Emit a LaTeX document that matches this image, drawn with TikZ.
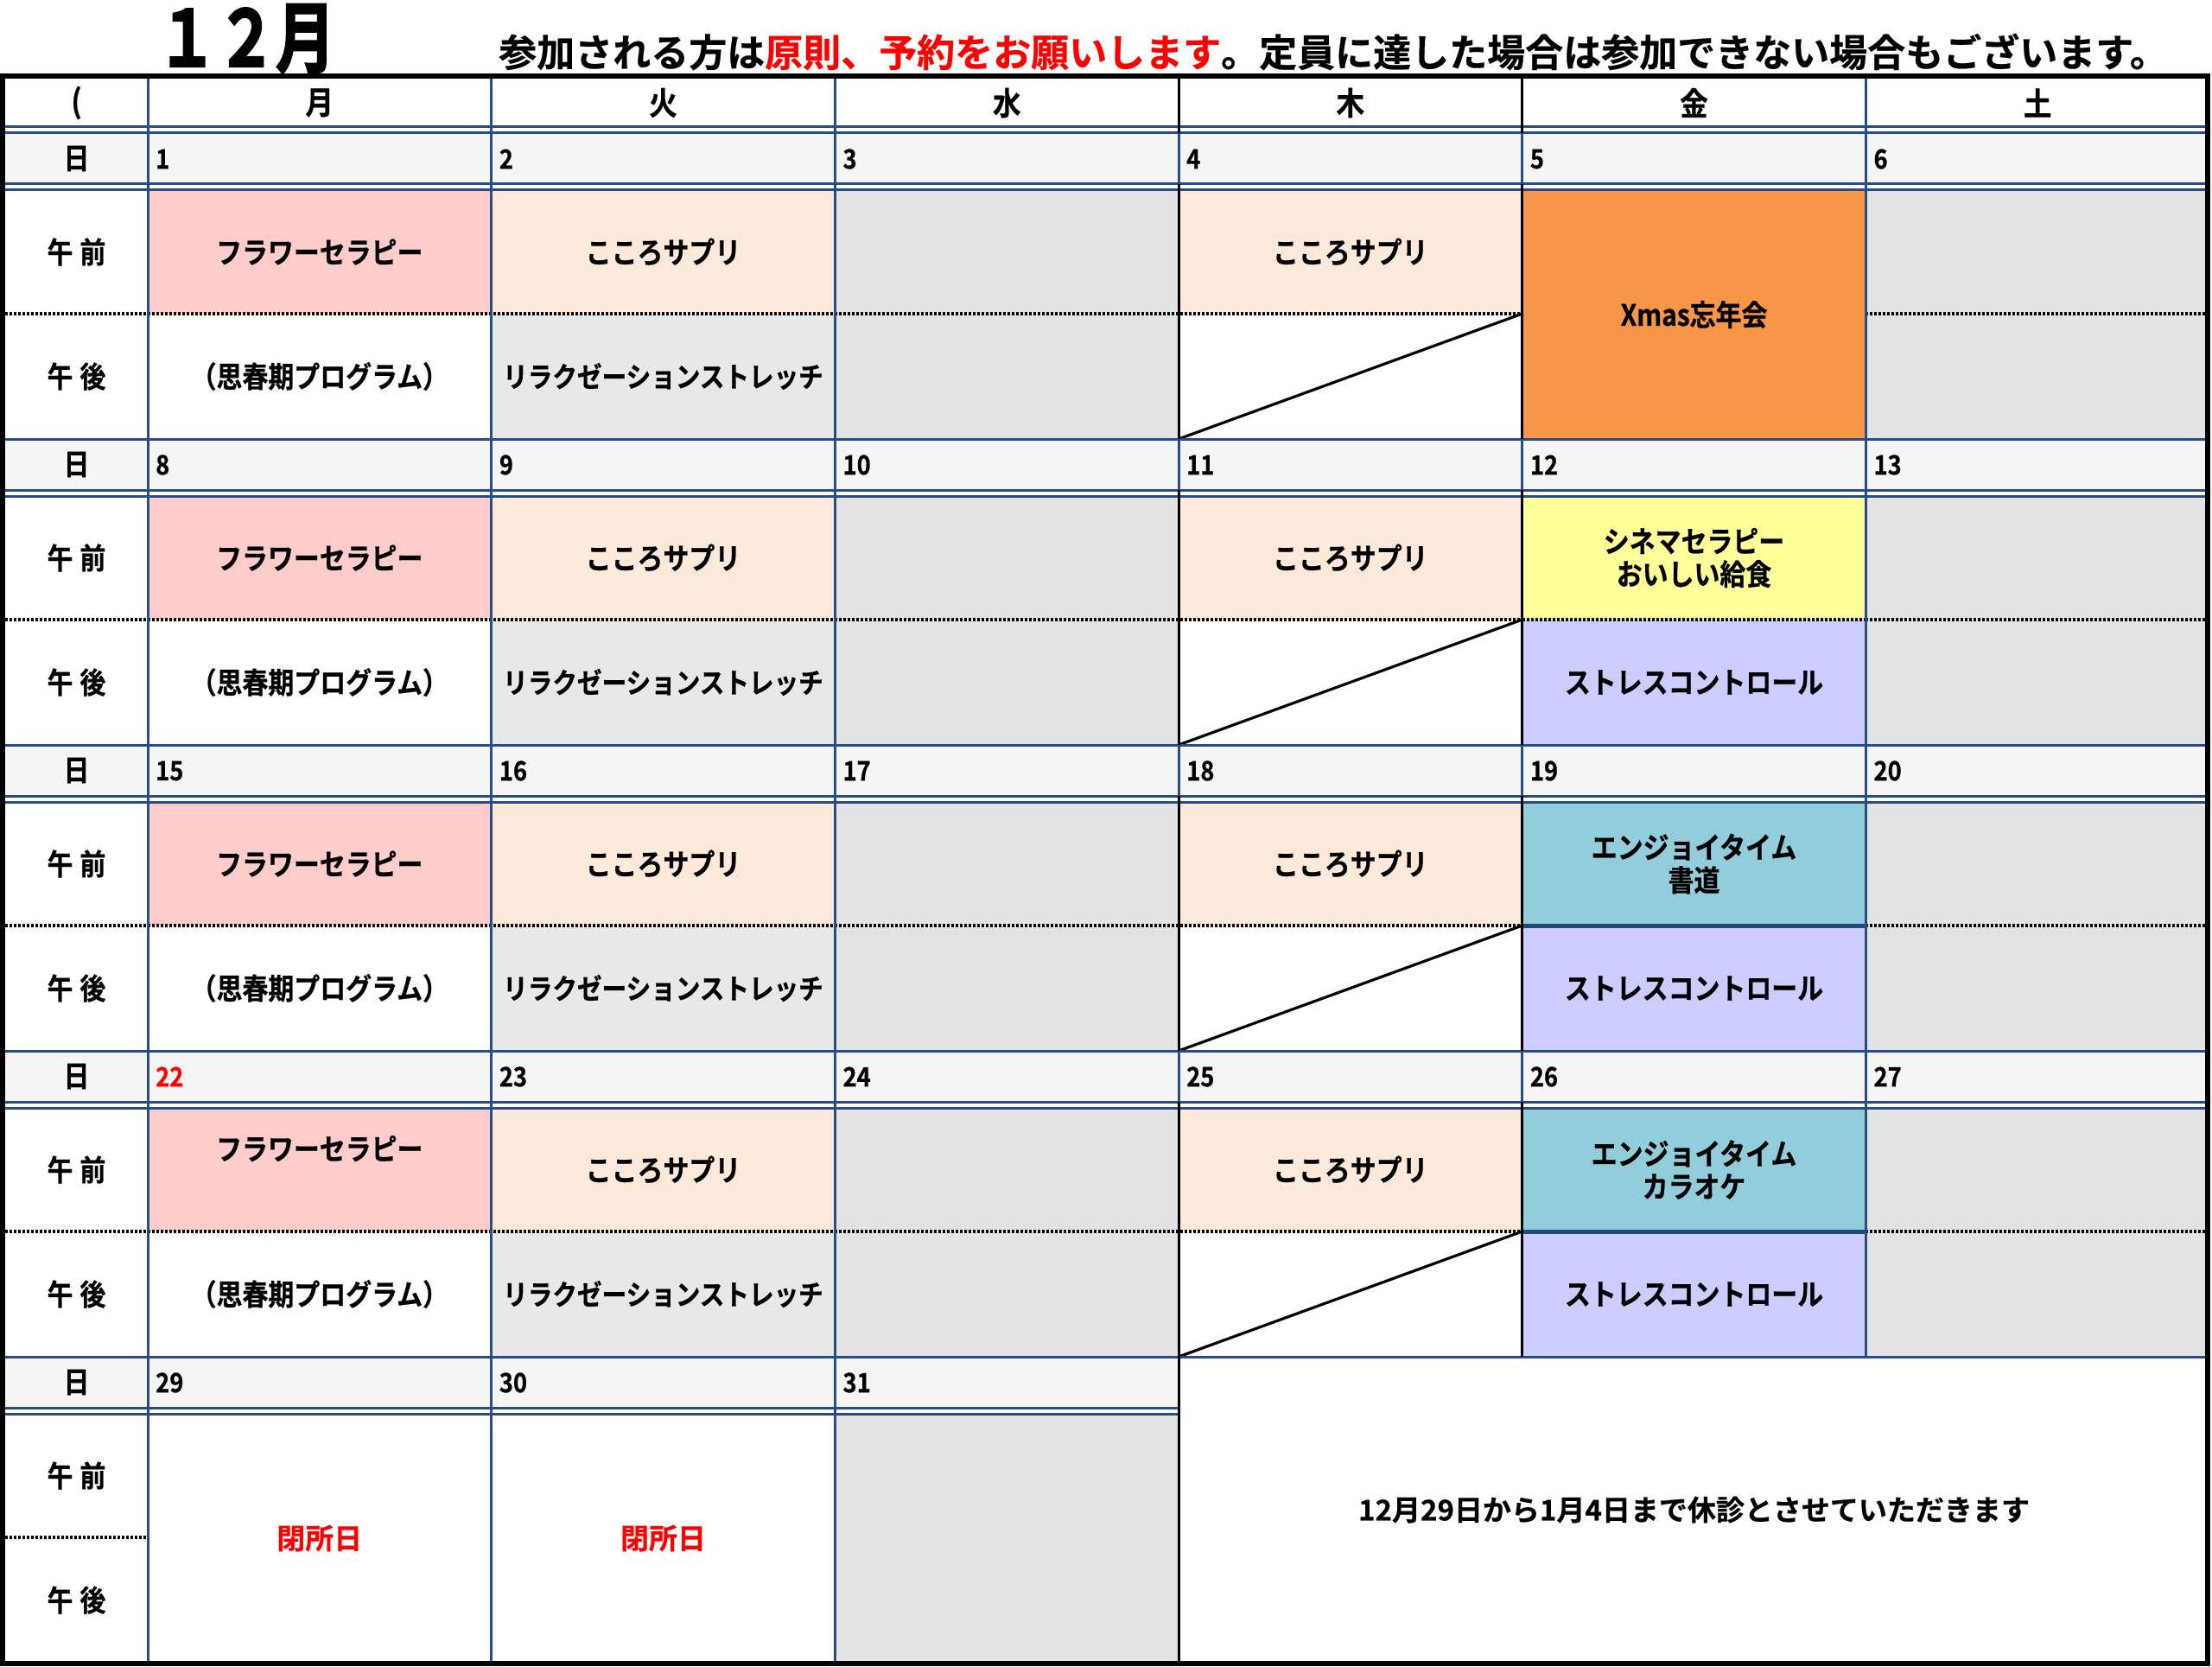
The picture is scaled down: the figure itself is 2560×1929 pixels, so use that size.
\documentclass[tikz,border=0pt]{standalone}
\usepackage{fontspec}
\newfontfamily\jp{Noto Sans CJK JP Bold}[FakeStretch=0.88,FakeBold=0.6]
\newfontfamily\jpn{Noto Sans CJK JP Bold}[FakeBold=0.5]
\newfontfamily\jpt{Noto Sans CJK JP Bold}[FakeStretch=0.76,FakeBold=2.5]
\definecolor{cblue}{RGB}{40,76,134}
\definecolor{cpink}{HTML}{FFCCCC}
\definecolor{cpeach}{HTML}{FDE9D9}
\definecolor{cgray}{HTML}{E3E3E3}
\definecolor{clgray}{HTML}{E8E8E8}
\definecolor{cdate}{HTML}{F5F5F5}
\definecolor{corange}{HTML}{F79646}
\definecolor{cyellow}{HTML}{FFFF99}
\definecolor{clav}{HTML}{CCCCFF}
\definecolor{cteal}{HTML}{92CDDC}
\definecolor{cdblue}{RGB}{31,73,125}
\tikzset{
 txt/.style={inner sep=0pt, align=center, font=\jp\fontsize{34}{38}\selectfont},
 txts/.style={inner sep=0pt, align=center, font=\jp\fontsize{32.5}{38}\selectfont},
 lbl/.style={inner sep=0pt, font=\jp\fontsize{34}{38}\selectfont},
 hdr/.style={inner sep=0pt, font=\jp\fontsize{37}{40}\selectfont},
 num/.style={inner sep=0pt, anchor=west, font=\jp\fontsize{31}{34}\selectfont},
 closed/.style={inner sep=0pt, text=red, font=\jpn\fontsize{33}{38}\selectfont},
 bl/.style={draw=cblue, line width=3pt},
 blk/.style={draw=black, line width=3pt},
 dotln/.style={draw=black, line width=3.2pt, dash pattern=on 3pt off 2pt},
}
\begin{document}
\begin{tikzpicture}[x=1pt,y=-1pt]
\useasboundingbox (0,0) rectangle (2560,1929);
\fill[white] (0,0) rectangle (2560,1929);
% title
\node[inner sep=0pt, font=\jpt\fontsize{90}{92}\selectfont] (title) at (285,45) {１２月};
\node[inner sep=0pt, anchor=west, font=\jpn\fontsize{44}{48}\selectfont] (sub) at (577,60) {参加される方は\textcolor{red}{原則、予約をお願いします}。定員に達した場合は参加できない場合もございます。};
% header
\node[hdr] (h0) at (88.5,119) {(};
\node[hdr] (h1) at (369.8,119) {月};
\node[hdr] (h2) at (767.5,119) {火};
\node[hdr] (h3) at (1165.2,119) {水};
\node[hdr] (h4) at (1562.8,119) {木};
\node[hdr] (h5) at (1960.5,119) {金};
\node[hdr] (h6) at (2358.2,119) {土};
% weeks 0-3
\foreach \k in {0,1,2,3}{
  \pgfmathsetmacro\D{154+354*\k}
  \pgfmathsetmacro\Da{\D+59}
  \pgfmathsetmacro\Db{\D+66}
  \pgfmathsetmacro\M{\D+209}
  \pgfmathsetmacro\B{\D+354}
  \pgfmathsetmacro\Am{(\Db+\M)/2}
  \pgfmathsetmacro\Pm{(\M+\B)/2}
  \fill[cdate] (6,\D) rectangle (2557,\Da);
  \fill[cpink] (171,\Db) rectangle (568.67,\M);
  \fill[cpeach] (568.67,\Db) rectangle (966.33,\M);
  \fill[clgray] (568.67,\M) rectangle (966.33,\B);
  \fill[cgray] (966.33,\Db) rectangle (1364,\B);
  \fill[cpeach] (1364,\Db) rectangle (1761.67,\M);
  \fill[cgray] (2159.33,\Db) rectangle (2557,\B);
  \node[lbl] (day\k) at (88.5,{\D+29.5}) {日};
  \node[lbl] (am\k) at (88.5,\Am) {午\kern8pt前};
  \node[lbl] (pm\k) at (88.5,\Pm) {午\kern8pt後};
  \ifnum\k=3
    \node[txt] (fl\k) at (369.8,{\Db+47}) {フラワーセラピー};
  \else
    \node[txt] (fl\k) at (369.8,\Am) {フラワーセラピー};
  \fi
  \node[txt] (kt\k) at (767.5,\Am) {こころサプリ};
  \node[txt] (kh\k) at (1562.8,\Am) {こころサプリ};
  \node[txt] (sh\k) at (369.8,\Pm) {（思春期プログラム）};
  \node[txts] (rx\k) at (767.5,\Pm) {リラクゼーションストレッチ};
  \ifcase\k\relax
    \fill[corange] (1761.67,\Db) rectangle (2159.33,\B);
    \node[txt] (fr\k) at (1960.5,{(\Db+\B)/2}) {Xmas忘年会};
  \or
    \fill[cyellow] (1761.67,\Db) rectangle (2159.33,\M);
    \fill[clav] (1761.67,\M) rectangle (2159.33,\B);
    \node[txt] (fr\k) at (1960.5,\Am) {シネマセラピー\\おいしい給食};
    \node[txt] (fp\k) at (1960.5,\Pm) {ストレスコントロール};
  \or
    \fill[cteal] (1761.67,\Db) rectangle (2159.33,\M);
    \fill[clav] (1761.67,\M) rectangle (2159.33,\B);
    \node[txt] (fr\k) at (1960.5,\Am) {エンジョイタイム\\書道};
    \node[txt] (fp\k) at (1960.5,\Pm) {ストレスコントロール};
  \or
    \fill[cteal] (1761.67,\Db) rectangle (2159.33,\M);
    \fill[clav] (1761.67,\M) rectangle (2159.33,\B);
    \node[txt] (fr\k) at (1960.5,\Am) {エンジョイタイム\\カラオケ};
    \node[txt] (fp\k) at (1960.5,\Pm) {ストレスコントロール};
  \fi
  \foreach \i in {1,...,6}{
    \pgfmathtruncatemacro\n{7*\k+\i}
    \pgfmathsetmacro\xx{171+397.667*(\i-1)+9}
    \ifnum\n=22 \def\tc{red}\else\def\tc{black}\fi
    \node[num, text=\tc] (n\n) at (\xx,{\D+30}) {\n};
  }
  % lines
  \draw[bl] (6,\D) -- (2557,\D);
  \draw[bl] (6,\Da) -- (2557,\Da);
  \draw[bl] (6,\Db) -- (2557,\Db);
  \draw[dotln] (6,\M) -- (1761.67,\M);
  \draw[dotln] (2159.33,\M) -- (2557,\M);
  \ifnum\k=1 \draw[dotln] (1761.67,\M) -- (2159.33,\M); \fi
  \ifnum\k>1 \draw[cdblue, line width=5pt] (1761.67,\M) -- (2159.33,\M); \fi
  \draw[black, line width=3.2pt] (1364,\B) -- (1761.67,\M);
}
% last week
\fill[cdate] (6,1570) rectangle (1364,1629);
\fill[cgray] (966.33,1636) rectangle (1364,1924);
\node[lbl] (day4) at (88.5,1599.5) {日};
\node[num] (n29) at (180,1600) {29};
\node[num] (n30) at (577.67,1600) {30};
\node[num] (n31) at (975.33,1600) {31};
\node[lbl] (am4) at (88.5,1707.5) {午\kern8pt前};
\node[lbl] (pm4) at (88.5,1851.5) {午\kern8pt後};
\node[closed] (cl1) at (369.8,1780) {閉所日};
\node[closed] (cl2) at (767.5,1780) {閉所日};
\node[inner sep=0pt, font=\jpn\fontsize{33}{38}\selectfont] (notice) at (1960.5,1747) {12月29日から1月4日まで休診とさせていただきます};
\draw[bl] (6,1570) -- (2557,1570);
\draw[bl] (6,1629) -- (1364,1629);
\draw[bl] (6,1636) -- (1364,1636);
\draw[dotln] (6,1779) -- (171,1779);
% header double line
\draw[bl] (6,147) -- (2557,147);
% vertical lines
\draw[bl] (171,88) -- (171,1925);
\draw[bl] (568.67,88) -- (568.67,1925);
\draw[bl] (966.33,88) -- (966.33,1925);
\draw[blk] (1364,88) -- (1364,1925);
\draw[blk] (1761.67,88) -- (1761.67,1570);
\draw[bl] (2159.33,88) -- (2159.33,1570);
\foreach \k in {0,1,2,3}{
  \pgfmathsetmacro\D{154+354*\k}
  \draw[bl] (1364,\D) -- (1364,{\D+59});
  \draw[bl] (1761.67,\D) -- (1761.67,{\D+59});
}
% outer border
\draw[black, line width=6pt] (3,88) rectangle (2555,1925);
\end{tikzpicture}
\end{document}
